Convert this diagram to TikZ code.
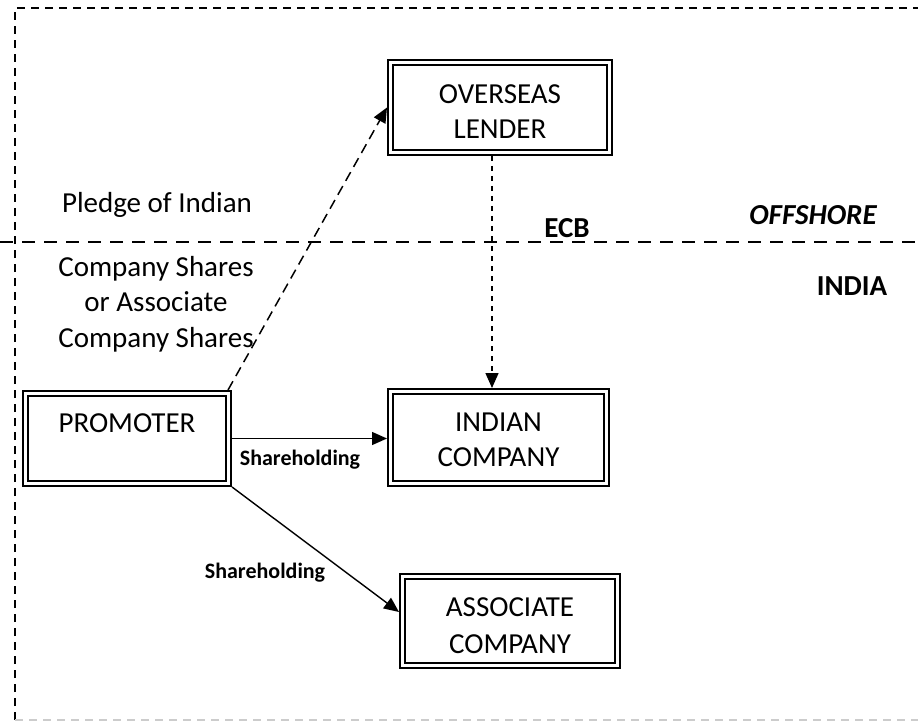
\documentclass[tikz,border=0pt]{standalone}
\usepackage{fontspec}
\setmainfont{Carlito}
\usetikzlibrary{arrows.meta}

\begin{document}
\begin{tikzpicture}[x=1pt,y=-1pt,
  dbox/.style={draw, double, line width=2.2pt, double distance=3pt,
    inner sep=0pt, outer sep=3.7pt, rectangle},
  txt/.style={font=\fontsize{29}{35}\selectfont, inner sep=0pt, anchor=base},
  btxt/.style={txt, font=\fontsize{29}{35}\selectfont\bfseries},
  smalltxt/.style={font=\fontsize{22}{26}\selectfont\bfseries, inner sep=0pt, anchor=base},
  tip/.style={-{Triangle[length=15pt,width=13pt]}},
  link/.style={line width=1.4pt, tip},
]
\clip (0,0) rectangle (918,722);
\useasboundingbox (0,0) rectangle (918,722);

% outer frame and the offshore / India divider
\draw[line width=1.3pt, dash pattern=on 8pt off 6pt] (15,720) -- (15,8) -- (930,8);
\draw[line width=1.3pt, dash pattern=on 8pt off 6pt, gray!40] (15,720) -- (930,720);
\draw[line width=1.5pt, dash pattern=on 13pt off 9pt] (0,242) -- (918,242);

% boxes
\node[dbox, minimum width=218.6pt, minimum height=89.6pt] (lender) at (500,107.5) {};
\node[dbox, minimum width=202.6pt, minimum height=89.6pt] (promoter) at (127,438.5) {};
\node[dbox, minimum width=215.6pt, minimum height=91.6pt] (indian) at (498.5,437.5) {};
\node[dbox, minimum width=214.6pt, minimum height=88.6pt] (associate) at (510,621) {};

% box texts
\node[txt] (lender1) at (500,103.3) {OVERSEAS};
\node[txt] (lender2) at (500,138.3) {LENDER};
\node[txt] (promoter1) at (127,432.3) {PROMOTER};
\node[txt] (indian1) at (498.5,431.3) {INDIAN};
\node[txt] (indian2) at (498.5,466.3) {COMPANY};
\node[txt] (associate1) at (510,616.3) {ASSOCIATE};
\node[txt] (associate2) at (510,653.3) {COMPANY};

% region labels
\node[btxt] (ecb) at (567,237) {ECB};
\node[btxt, font=\fontsize{29}{35}\selectfont\bfseries\itshape] (offshore) at (813,225) {OFFSHORE};
\node[btxt] (india) at (852,295) {INDIA};

% pledge text
\node[txt] (pledge1) at (157,213) {Pledge of Indian};
\node[txt] (pledge2) at (156,276) {Company Shares};
\node[txt] (pledge3) at (156,311) {or Associate};
\node[txt] (pledge4) at (156,347) {Company Shares};

% connectors
\draw[line width=1.5pt, dash pattern=on 10pt off 6pt, tip]
  ([xshift=-4pt]promoter.north east) -- (lender.west);
\draw[line width=1.5pt, dash pattern=on 5pt off 5pt, tip]
  ([xshift=-8pt]lender.south) -- ([xshift=-8pt]lender.south |- indian.north);
\draw[link] (promoter.east) -- (promoter.east -| indian.west);
\draw[link] (promoter.south east) -- ([yshift=9pt]associate.west);

\node[smalltxt] (share1) at (300,465) {Shareholding};
\node[smalltxt] (share2) at (265,578) {Shareholding};
\end{tikzpicture}
\end{document}
